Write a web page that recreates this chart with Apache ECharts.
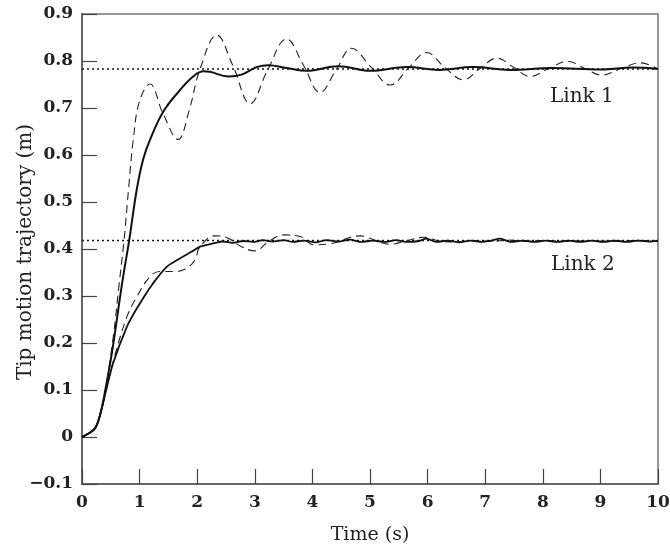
<!DOCTYPE html>
<html><head><meta charset="utf-8">
<script src="https://cdn.jsdelivr.net/npm/echarts@6/dist/echarts.min.js"></script>
<style>html,body{margin:0;padding:0;background:#fff}#c{width:670px;height:550px}</style>
</head><body><div id="c"></div>
<script>
// Reference (desired) values
const link1Ref = 0.783;
const link2Ref = 0.418;
const timeRange = [0, 10];
// Link 1, solid curve [time, value]
const link1Solid = [[0,0],[0.12,0.008],[0.23,0.019],[0.32,0.05],[0.42,0.11],[0.5,0.165],[0.57,0.22],[0.7,0.33],[0.82,0.419],[0.95,0.526],[1.06,0.59],[1.18,0.632],[1.41,0.692],[1.70,0.738],[1.93,0.767],[2.11,0.778],[2.22,0.777],[2.54,0.767],[2.77,0.771],[3.03,0.787],[3.24,0.791],[3.55,0.785],[3.9,0.779],[4.45,0.789],[5.0,0.779],[5.64,0.787],[6.2,0.781],[6.79,0.787],[7.43,0.781],[8.18,0.785],[9.0,0.782],[9.57,0.786],[10,0.783]];
// Link 1, dashed curve
const link1Dashed = [[0,0],[0.12,0.008],[0.23,0.019],[0.32,0.05],[0.42,0.11],[0.55,0.22],[0.64,0.32],[0.73,0.419],[0.81,0.53],[0.89,0.632],[1.0,0.715],[1.18,0.751],[1.4,0.69],[1.67,0.633],[1.85,0.69],[2.05,0.783],[2.34,0.855],[2.62,0.79],[2.92,0.709],[3.22,0.78],[3.55,0.847],[3.85,0.79],[4.13,0.733],[4.42,0.783],[4.68,0.827],[5.02,0.787],[5.35,0.749],[5.67,0.785],[5.98,0.818],[6.3,0.786],[6.62,0.76],[6.91,0.784],[7.2,0.806],[7.5,0.786],[7.78,0.767],[8.1,0.784],[8.44,0.799],[8.73,0.784],[9.02,0.770],[9.36,0.784],[9.69,0.796],[10,0.783]];
// Link 2, solid curve
const link2Solid = [[0,0],[0.12,0.008],[0.23,0.019],[0.32,0.05],[0.42,0.1],[0.54,0.157],[0.78,0.235],[0.92,0.267],[1.04,0.291],[1.21,0.323],[1.47,0.362],[1.7,0.380],[1.9,0.394],[2.05,0.405],[2.28,0.412],[2.45,0.416],[2.62,0.413],[2.8,0.417],[2.97,0.415],[3.14,0.419],[3.31,0.416],[3.5,0.419],[3.66,0.415],[3.85,0.418],[4.05,0.414],[4.25,0.419],[4.45,0.416],[4.65,0.420],[4.85,0.415],[5.05,0.418],[5.25,0.415],[5.45,0.419],[5.65,0.415],[5.85,0.417],[5.98,0.422],[6.15,0.415],[6.35,0.418],[6.55,0.414],[6.75,0.418],[6.95,0.415],[7.1,0.418],[7.26,0.422],[7.45,0.415],[7.65,0.418],[7.85,0.415],[8.05,0.418],[8.25,0.415],[8.45,0.418],[8.65,0.415],[8.85,0.418],[9.05,0.415],[9.25,0.418],[9.45,0.415],[9.65,0.418],[9.85,0.416],[10,0.418]];
// Link 2, dashed curve
const link2Dashed = [[0,0],[0.12,0.008],[0.23,0.019],[0.32,0.05],[0.42,0.1],[0.54,0.16],[0.78,0.256],[0.95,0.298],[1.18,0.341],[1.35,0.352],[1.61,0.352],[1.82,0.359],[1.96,0.377],[2.05,0.405],[2.31,0.428],[2.52,0.424],[2.77,0.405],[3.0,0.396],[3.24,0.416],[3.5,0.430],[3.8,0.426],[4.02,0.409],[4.3,0.411],[4.83,0.428],[5.1,0.418],[5.35,0.41],[5.65,0.418],[5.93,0.425],[6.2,0.417],[6.5,0.415],[6.8,0.418],[7.1,0.416],[7.4,0.419],[7.7,0.416],[8.0,0.418],[8.4,0.416],[8.8,0.418],[9.2,0.416],[9.6,0.418],[10,0.417]];
const yTitle = 'Tip motion trajectory (m)';

const font = 'DejaVu Serif';
const chart = echarts.init(document.getElementById('c'), null, {renderer:'canvas'});
const lineBase = {type:'line', showSymbol:false, silent:true, animation:false};
chart.setOption({
  animation:false,
  grid:{left:82, right:12, top:14, bottom:66, show:true, borderColor:'#777', borderWidth:1.5, containLabel:false, outerBoundsMode:'none'},
  xAxis:{type:'value', min:timeRange[0], max:timeRange[1], interval:1,
    name:'Time (s)', nameLocation:'middle', nameGap:42,
    nameTextStyle:{fontFamily:font, fontSize:19, color:'#222'},
    axisLine:{show:true, onZero:false, lineStyle:{color:'#666', width:2}},
    axisTick:{inside:true, length:15, lineStyle:{color:'#444', width:1.2}},
    axisLabel:{margin:10, fontFamily:font, fontSize:17, fontWeight:'bold', color:'#222'},
    splitLine:{show:false}},
  yAxis:{type:'value', min:-0.1, max:0.9, interval:0.1,
    axisLine:{show:true, onZero:false, lineStyle:{color:'#666', width:2}},
    axisTick:{inside:true, length:15, lineStyle:{color:'#444', width:1.2}},
    axisLabel:{margin:9, fontFamily:font, fontSize:17, fontWeight:'bold', color:'#222',
      formatter:function(v){ if (Math.abs(v)<1e-9) return '0'; return v.toFixed(1).replace('-', '\u2212'); }},
    splitLine:{show:false}},
  graphic:[
    {type:'text', x:26, y:252, rotation:Math.PI/2, style:{text:yTitle, fontFamily:font, fontSize:20, fill:'#222', align:'center', verticalAlign:'middle'}},
    {type:'text', left:550, top:87, style:{text:'Link 1', fontFamily:font, fontSize:20, fill:'#222'}},
    {type:'text', left:551, top:255, style:{text:'Link 2', fontFamily:font, fontSize:20, fill:'#222'}}
  ],
  series:[
    Object.assign({}, lineBase, {data:[[timeRange[0],link1Ref],[timeRange[1],link1Ref]], lineStyle:{color:'#111', width:1.6, type:[2,3]}}),
    Object.assign({}, lineBase, {data:[[timeRange[0],link2Ref],[timeRange[1],link2Ref]], lineStyle:{color:'#111', width:1.6, type:[2,3]}}),
    Object.assign({}, lineBase, {data:link1Dashed, smooth:0.4, lineStyle:{color:'#222', width:1.1, type:[8,5]}}),
    Object.assign({}, lineBase, {data:link2Dashed, smooth:0.4, lineStyle:{color:'#222', width:1.1, type:[8,5]}}),
    Object.assign({}, lineBase, {data:link1Solid, smooth:0.4, lineStyle:{color:'#111', width:2}}),
    Object.assign({}, lineBase, {data:link2Solid, smooth:0.3, lineStyle:{color:'#111', width:1.8}})
  ]
});
</script></body></html>
